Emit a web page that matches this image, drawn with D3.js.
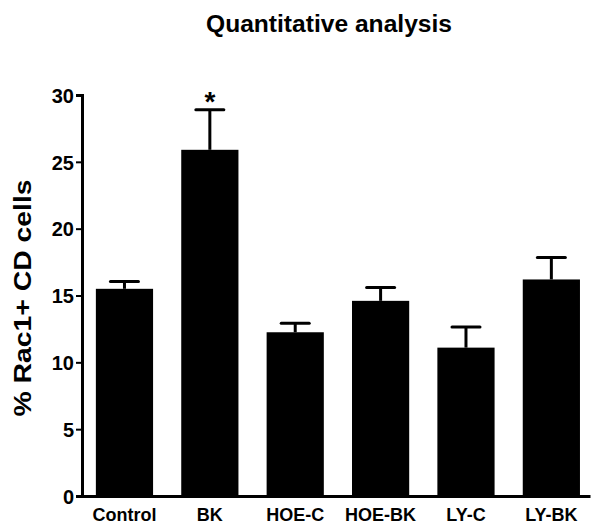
<!doctype html>
<html>
<head>
<style>
body { margin: 0; background: #fff; }
text { font-family: "Liberation Sans", Arial, sans-serif; font-weight: bold; fill: #000; }
</style>
</head>
<body>
<div id="root"></div>
<script src="https://d3js.org/d3.v7.min.js"></script>
<script>

var categories = ["Control", "BK", "HOE-C", "HOE-BK", "LY-C", "LY-BK"];
var means = [15.5, 25.9, 12.25, 14.6, 11.1, 16.2];
var errors = [0.55, 3.0, 0.67, 1.0, 1.55, 1.65];
var yTicks = [0, 5, 10, 15, 20, 25, 30];
var marked = ["BK"];

var rows = categories.map(function(c, i) {
	return { name: c, mean: means[i], err: errors[i] };
});

var svg = d3.select('#root').append('svg')
	.attr('width', 591)
	.attr('height', 527);

var x = d3.scaleBand()
	.domain(categories)
	.range([82, 590])
	.paddingInner(0.33)
	.paddingOuter(0.14)
	.align(0.58);

var y = d3.scaleLinear()
	.domain([0, 30])
	.range([496, 95]);

// bars
svg.append('g').selectAll('rect')
	.data(rows)
	.enter().append('rect')
		.attr('x', function(d) { return x(d.name); })
		.attr('y', function(d) { return y(d.mean); })
		.attr('width', x.bandwidth())
		.attr('height', function(d) { return y(0) - y(d.mean); })
		.attr('fill', '#000');

// error bars
var eb = svg.append('g').selectAll('g')
	.data(rows)
	.enter().append('g')
		.attr('stroke', '#000')
		.attr('stroke-width', 3);

eb.append('line')
	.attr('x1', function(d) { return x(d.name) + x.bandwidth() / 2; })
	.attr('x2', function(d) { return x(d.name) + x.bandwidth() / 2; })
	.attr('y1', function(d) { return y(d.mean); })
	.attr('y2', function(d) { return y(d.mean + d.err); });

eb.append('line')
	.attr('stroke-linecap', 'round')
	.attr('x1', function(d) { return x(d.name) + x.bandwidth() / 2 - 14; })
	.attr('x2', function(d) { return x(d.name) + x.bandwidth() / 2 + 14; })
	.attr('y1', function(d) { return y(d.mean + d.err); })
	.attr('y2', function(d) { return y(d.mean + d.err); });

// significance star
svg.append('g').selectAll('text')
	.data(rows.filter(function(d) { return marked.indexOf(d.name) >= 0; }))
	.enter().append('text')
		.attr('x', function(d) { return x(d.name) + x.bandwidth() / 2; })
		.attr('y', function(d) { return y(d.mean + d.err) + 1; })
		.attr('text-anchor', 'middle')
		.attr('font-size', 28)
		.text('*');

// y axis
var yAxis = svg.append('g')
	.attr('transform', 'translate(82,0)')
	.call(d3.axisLeft(y).tickValues(yTicks).tickSizeOuter(0).tickSize(6).tickPadding(2));
yAxis.select('.domain').attr('stroke-width', 3);
yAxis.selectAll('.tick line').attr('stroke-width', 2);
yAxis.selectAll('.tick text')
	.attr('font-size', 20)
	.attr('font-family', null)
	.attr('dy', '0.36em')
	.style('font-family', '"Liberation Sans", Arial, sans-serif');

// x axis
var xAxis = svg.append('g')
	.attr('transform', 'translate(0,496)')
	.call(d3.axisBottom(x).tickSize(0).tickSizeOuter(0));
xAxis.select('.domain').attr('stroke-width', 3);
xAxis.selectAll('.tick text')
	.attr('font-size', 18)
	.attr('font-family', null)
	.attr('dy', null)
	.attr('y', 25)
	.style('font-family', '"Liberation Sans", Arial, sans-serif');

// y label
svg.append('text')
	.attr('transform', 'translate(31,298) rotate(-90)')
	.attr('text-anchor', 'middle')
	.attr('font-size', 24)
	.attr('textLength', 237)
	.attr('lengthAdjust', 'spacingAndGlyphs')
	.text('% Rac1+ CD cells');

// title
svg.append('text')
	.attr('x', 329)
	.attr('y', 32)
	.attr('text-anchor', 'middle')
	.attr('font-size', 23)
	.attr('textLength', 246)
	.attr('lengthAdjust', 'spacingAndGlyphs')
	.text('Quantitative analysis');

</script>
</body>
</html>
